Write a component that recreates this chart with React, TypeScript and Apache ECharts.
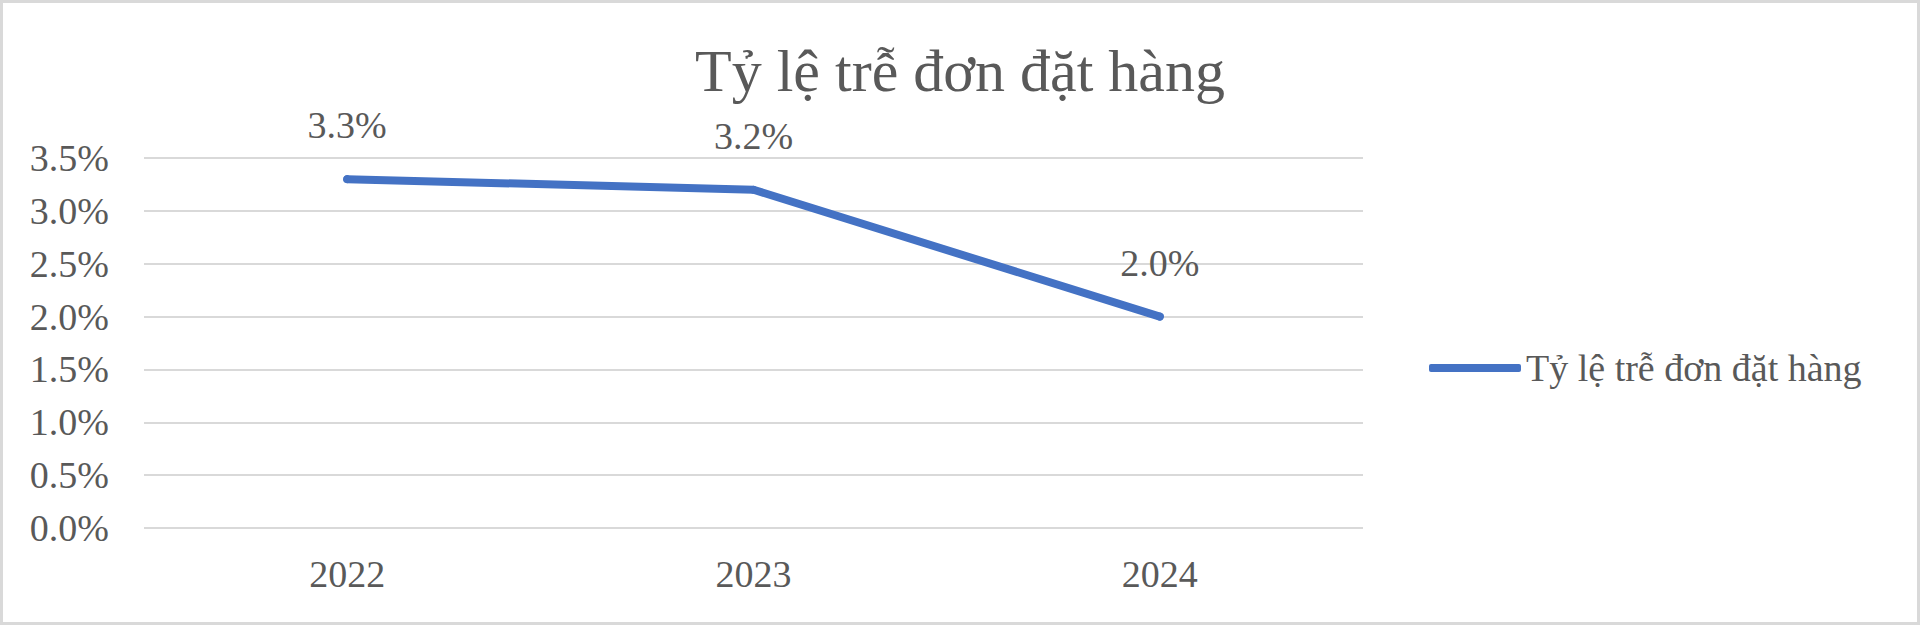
import React, { useEffect, useRef } from 'react';
import * as echarts from 'echarts';

const years = ['2022', '2023', '2024'];
const lateRate = [3.3, 3.2, 2.0]; // % đơn trễ
const seriesName = 'Tỷ lệ trễ đơn đặt hàng';

const textColor = '#595959';
const font = '"Liberation Serif", "Times New Roman", serif';

const App = () => {
  const chartRef = useRef<any>(null);

  useEffect(() => {
    document.body.style.margin = '0';
    const chart = echarts.init(chartRef.current, null, { renderer: 'svg' });

    const option: any = {
      animation: false,
      backgroundColor: '#fff',
      textStyle: { fontFamily: font, color: textColor },
      title: {
        text: seriesName,
        left: 'center',
        top: 36,
        textStyle: { fontFamily: font, fontSize: 60, fontWeight: 'normal', color: textColor },
      },
      legend: {
        data: [seriesName],
        left: 1429,
        top: 349,
        padding: 0,
        icon: 'roundRect',
        itemWidth: 92,
        itemHeight: 8,
        itemGap: 6,
        textStyle: { fontFamily: font, fontSize: 38, color: textColor },
      },
      grid: { left: 144, right: 557, top: 158, bottom: 97, containLabel: false },
      xAxis: {
        type: 'category',
        data: years,
        axisLine: { show: false },
        axisTick: { show: false },
        axisLabel: { margin: 27, fontFamily: font, fontSize: 38, color: textColor },
      },
      yAxis: {
        type: 'value',
        min: 0,
        max: 3.5,
        interval: 0.5,
        axisLine: { show: false },
        axisTick: { show: false },
        splitLine: { lineStyle: { color: '#d9d9d9', width: 2 } },
        axisLabel: {
          margin: 35,
          fontFamily: font,
          fontSize: 38,
          color: textColor,
          formatter: (v: number) => v.toFixed(1) + '%',
        },
      },
      series: [
        {
          name: seriesName,
          type: 'line',
          data: lateRate,
          symbol: 'circle',
          symbolSize: 8,
          itemStyle: { color: '#4472C4' },
          lineStyle: { color: '#4472C4', width: 8, cap: 'round', join: 'round' },
          label: {
            show: true,
            position: 'top',
            distance: 31,
            fontFamily: font,
            fontSize: 38,
            color: textColor,
            formatter: (p: any) => p.value.toFixed(1) + '%',
          },
        },
      ],
      graphic: [
        {
          type: 'rect',
          shape: { x: 1.5, y: 1.5, width: 1917, height: 622 },
          style: { fill: 'none', stroke: '#d9d9d9', lineWidth: 3 },
          silent: true,
        },
      ],
    };

    chart.setOption(option);

    return () => {
      chart.dispose();
    };
  }, []);

  return <div ref={chartRef} style={{ width: '1920px', height: '625px' }} />;
};

export default App;
